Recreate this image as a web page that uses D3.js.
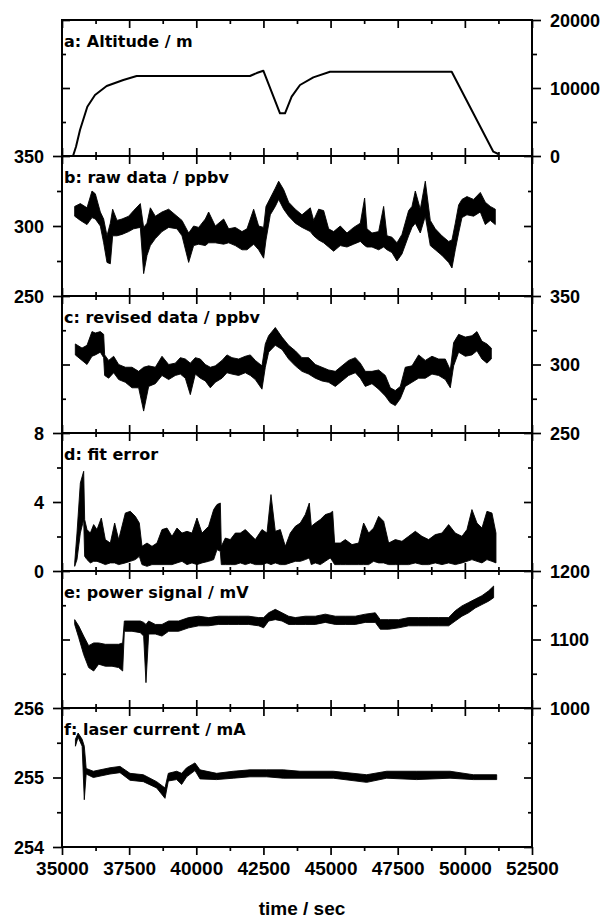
<!DOCTYPE html>
<html>
<head>
<meta charset="utf-8">
<script src="https://cdn.jsdelivr.net/npm/d3@7/dist/d3.min.js"></script>
<style>
  body { margin: 0; background: #fff; }
  svg { display: block; }
</style>
</head>
<body>
<svg id="chart" width="604" height="918"></svg>
<script>
// ---- data ----
const timeMajor = [35000, 37500, 40000, 42500, 45000, 47500, 50000, 52500];
const timeMinor = [36250, 38750, 41250, 43750, 46250, 48750, 51250];

// a: altitude (line)
const altTime  = [35410, 35521, 35670, 35943, 36229, 36663, 37283, 37780, 42000, 42249, 42496, 43117, 43303, 43551, 43862, 44358, 44979, 49510, 51060, 51245];
const altValue = [0, 1370, 3820, 7250, 8970, 10290, 11180, 11760, 11760, 12200, 12540, 6270, 6270, 8720, 10440, 11570, 12400, 12400, 630, 290];

// b: raw data, noise band low / high
const rawTime = [35472, 35683, 35931, 36117, 36241, 36427, 36551, 36675, 36799, 36886, 37048, 37234, 37482, 37668, 37916, 38040, 38165, 38289, 38475, 38723,
  38971, 39281, 39468, 39716, 39902, 40088, 40336, 40460, 40709, 41019, 41205, 41453, 41701, 41888, 42136, 42322, 42508, 42595, 42756, 42942,
  43067, 43253, 43439, 43687, 43935, 44245, 44370, 44556, 44742, 44928, 45114, 45362, 45611, 45859, 46107, 46268, 46355, 46541, 46790, 46976,
  47100, 47286, 47472, 47658, 47906, 48031, 48155, 48341, 48527, 48713, 48899, 49147, 49396, 49520, 49644, 49768, 49892, 50078, 50326, 50575,
  50761, 50947, 51133];
const rawLo = [307, 304, 301, 306, 305, 300, 288, 274, 273, 293, 293, 294, 296, 298, 299, 266, 279, 286, 291, 296,
  299, 298, 293, 274, 286, 287, 286, 288, 288, 287, 288, 286, 283, 283, 287, 283, 277, 290, 308, 314,
  319, 312, 307, 302, 299, 296, 293, 290, 288, 285, 282, 286, 285, 287, 289, 286, 285, 285, 283, 285,
  283, 281, 275, 280, 293, 299, 302, 295, 307, 286, 283, 279, 274, 270, 283, 295, 306, 308, 307, 310,
  301, 304, 301];
const rawHi = [314, 316, 313, 325, 323, 310, 305, 293, 302, 312, 304, 305, 307, 311, 316, 299, 302, 313, 307, 310,
  312, 307, 304, 295, 300, 299, 305, 310, 300, 305, 298, 299, 296, 298, 312, 300, 299, 314, 320, 327,
  332, 326, 317, 312, 308, 313, 304, 312, 311, 298, 296, 300, 295, 299, 302, 320, 298, 295, 296, 314,
  293, 292, 288, 294, 311, 314, 325, 312, 332, 304, 298, 293, 289, 290, 302, 315, 319, 321, 319, 324,
  317, 314, 312];

// c: revised data
const revTime = [35496, 35745, 35931, 36117, 36241, 36427, 36551, 36588, 36737, 36924, 37110, 37358, 37606, 37854, 38040, 38227, 38475, 38723, 38971, 39219,
  39406, 39592, 39778, 39964, 40150, 40336, 40522, 40709, 40957, 41143, 41329, 41577, 41826, 42012, 42198, 42446, 42570, 42694, 42942, 43191,
  43439, 43687, 43935, 44183, 44432, 44680, 44928, 45176, 45424, 45673, 45921, 46107, 46293, 46541, 46790, 47038, 47224, 47410, 47596, 47782,
  48031, 48279, 48527, 48775, 49023, 49272, 49458, 49582, 49768, 50016, 50264, 50450, 50637, 50823, 50984];
const revLo = [307, 303, 300, 306, 307, 309, 305, 292, 290, 294, 289, 287, 283, 283, 266, 284, 286, 292, 289, 292,
  293, 290, 278, 293, 290, 288, 283, 287, 290, 294, 293, 292, 294, 292, 289, 282, 298, 309, 314, 311,
  304, 299, 295, 293, 290, 288, 287, 284, 288, 292, 294, 290, 284, 286, 282, 277, 272, 270, 275, 284,
  287, 290, 290, 293, 292, 289, 283, 299, 309, 306, 307, 310, 304, 301, 304];
const revHi = [315, 312, 314, 324, 323, 324, 322, 307, 303, 306, 300, 298, 298, 295, 298, 299, 298, 306, 300, 301,
  305, 304, 301, 305, 304, 300, 298, 299, 303, 307, 305, 304, 306, 307, 303, 299, 315, 321, 327, 320,
  314, 310, 305, 305, 300, 298, 296, 295, 299, 303, 305, 301, 295, 295, 296, 292, 283, 281, 284, 298,
  299, 307, 303, 306, 304, 304, 296, 316, 322, 320, 321, 324, 317, 315, 312];

// d: fit error
const fitTime = [35472, 35558, 35683, 35807, 35844, 35931, 36055, 36179, 36303, 36464, 36613, 36799, 36961, 37110, 37358, 37544, 37730, 37879, 37978, 38165,
  38351, 38537, 38723, 38909, 39095, 39281, 39468, 39654, 39840, 40026, 40212, 40460, 40647, 40771, 40895, 40932, 41081, 41267, 41453, 41639,
  41826, 42012, 42198, 42446, 42632, 42781, 42942, 43129, 43315, 43501, 43687, 43873, 44059, 44208, 44283, 44432, 44618, 44804, 44990, 45077,
  45151, 45362, 45549, 45797, 46045, 46231, 46417, 46603, 46790, 46976, 47162, 47410, 47658, 47906, 48155, 48403, 48651, 48899, 49147, 49396,
  49644, 49892, 50078, 50264, 50450, 50637, 50823, 51009, 51158];
const fitLo = [0.27, 0.66, 2.20, 2.98, 0.85, 0.66, 0.47, 0.56, 0.56, 0.47, 0.37, 0.47, 0.47, 0.37, 0.47, 0.56, 0.66, 0.85, 0.37, 0.27,
  0.37, 0.37, 0.37, 0.37, 0.37, 0.47, 0.56, 0.37, 0.47, 0.37, 0.47, 0.56, 0.66, 1.24, 1.14, 0.37, 0.37, 0.37, 0.37, 0.47,
  0.37, 0.47, 0.37, 0.37, 0.47, 0.37, 0.47, 0.37, 0.37, 0.47, 0.56, 0.56, 0.66, 0.76, 0.37, 0.47, 0.37, 0.56, 0.76, 0.56,
  0.37, 0.37, 0.37, 0.37, 0.37, 0.37, 0.37, 0.56, 0.47, 0.47, 0.37, 0.37, 0.37, 0.37, 0.47, 0.37, 0.37, 0.47, 0.37, 0.47,
  0.37, 0.47, 0.56, 0.66, 0.56, 0.47, 0.66, 0.56, 0.47];
const fitHi = [0.47, 2.20, 5.10, 5.78, 2.98, 2.40, 2.20, 2.69, 2.40, 3.07, 1.82, 1.62, 2.78, 1.82, 3.36, 3.46, 3.17, 2.78, 1.43, 1.62,
  1.43, 1.62, 2.40, 2.49, 2.01, 2.49, 2.20, 2.30, 2.20, 3.07, 2.20, 2.59, 3.56, 3.85, 3.94, 1.43, 1.91, 1.82, 2.20, 2.20,
  2.40, 2.11, 1.82, 2.40, 2.20, 4.43, 2.30, 2.40, 1.43, 2.20, 2.59, 2.78, 3.27, 3.94, 2.59, 2.78, 2.98, 3.27, 3.36, 3.46,
  1.62, 1.62, 1.82, 1.53, 1.62, 2.78, 2.20, 2.49, 3.17, 2.88, 1.62, 1.82, 1.72, 2.01, 2.30, 2.01, 1.82, 2.11, 2.20, 2.69,
  2.20, 2.01, 2.40, 3.56, 2.78, 2.49, 3.46, 3.36, 2.20];

// e: power signal
const powTime = [35472, 35621, 35807, 35993, 36179, 36365, 36613, 36862, 37110, 37259, 37321, 37606, 37916, 38040, 38127, 38227, 38475, 38723, 38971, 39344,
  39716, 40088, 40460, 40833, 41205, 41577, 41950, 42322, 42508, 42694, 42942, 43191, 43439, 43687, 44059, 44432, 44804, 45176, 45549, 45921,
  46293, 46665, 46852, 47162, 47534, 47906, 48279, 48651, 49023, 49396, 49644, 49892, 50140, 50388, 50637, 50885, 51071];
const powLo = [1122, 1103, 1078, 1059, 1054, 1064, 1061, 1061, 1059, 1054, 1112, 1112, 1110, 1105, 1037, 1108, 1108, 1105, 1112, 1112,
  1117, 1120, 1120, 1122, 1122, 1122, 1122, 1120, 1117, 1127, 1129, 1127, 1122, 1122, 1122, 1122, 1125, 1122, 1122, 1122,
  1125, 1125, 1115, 1115, 1117, 1120, 1120, 1120, 1120, 1120, 1127, 1134, 1139, 1146, 1151, 1156, 1161];
const powHi = [1129, 1120, 1105, 1091, 1095, 1095, 1093, 1093, 1093, 1095, 1127, 1127, 1127, 1125, 1122, 1127, 1122, 1122, 1127, 1127,
  1132, 1134, 1132, 1134, 1134, 1134, 1134, 1132, 1132, 1139, 1144, 1139, 1134, 1132, 1134, 1134, 1137, 1134, 1134, 1134,
  1137, 1139, 1129, 1129, 1129, 1132, 1132, 1132, 1132, 1132, 1142, 1149, 1154, 1159, 1164, 1171, 1178];

// f: laser current
const curTime = [35500, 35600, 35750, 35830, 35900, 36166, 36787, 37160, 37532, 38028, 38525, 38835, 38959, 39269, 39455, 39641, 39952, 40138, 40758, 41379,
  42000, 42620, 43241, 43862, 45103, 46344, 47089, 48206, 49447, 50316, 51185];
const curLo = [255.45, 255.58, 255.45, 254.68, 255.05, 255.00, 255.05, 255.07, 254.96, 254.94, 254.85, 254.70, 254.95, 254.97, 254.90, 255.01, 255.10, 254.98, 254.97, 254.99,
  255.01, 255.01, 254.99, 254.99, 254.99, 254.93, 254.99, 254.97, 254.99, 254.97, 254.97];
const curHi = [255.55, 255.64, 255.55, 255.45, 255.13, 255.09, 255.14, 255.16, 255.06, 255.04, 254.94, 254.85, 255.06, 255.09, 255.06, 255.14, 255.21, 255.11, 255.06, 255.09,
  255.11, 255.11, 255.11, 255.09, 255.09, 255.04, 255.09, 255.09, 255.09, 255.04, 255.04];

// ---- layout ----
const svg = d3.select("#chart");
const left = 62, right = 532;
const edges = [20, 156, 296, 433, 571, 708, 847];
const fontAxis = "'Liberation Sans', Arial, sans-serif";
const fontTitle = "'DejaVu Sans', sans-serif";

const x = d3.scaleLinear().domain([35000, 52500]).range([left, right]);

const panels = [
  {title: "a: Altitude / m", domain: [0, 20000], major: [0, 10000, 20000], minor: [5000, 15000], side: "right",
   line: altTime.map((t, i) => [t, altValue[i]])},
  {title: "b: raw data / ppbv", domain: [250, 350], major: [250, 300, 350], minor: [275, 325], side: "left",
   band: rawTime.map((t, i) => [t, rawLo[i], rawHi[i]])},
  {title: "c: revised data / ppbv", domain: [250, 350], major: [250, 300, 350], minor: [275, 325], side: "right",
   band: revTime.map((t, i) => [t, revLo[i], revHi[i]])},
  {title: "d: fit error", domain: [0, 8], major: [0, 4, 8], minor: [2, 6], side: "left",
   band: fitTime.map((t, i) => [t, fitLo[i], fitHi[i]])},
  {title: "e: power signal / mV", domain: [1000, 1200], major: [1000, 1100, 1200], minor: [1050, 1150], side: "right",
   band: powTime.map((t, i) => [t, powLo[i], powHi[i]])},
  {title: "f: laser current / mA", domain: [254, 256], major: [254, 255, 256], minor: [254.5, 255.5], side: "left",
   band: curTime.map((t, i) => [t, curLo[i], curHi[i]])}
];

function styleAxis(g, size) {
  g.select(".domain").remove();
  g.selectAll("line").attr("stroke", "#000").attr("stroke-width", 1.7);
  g.selectAll("text")
    .attr("font-family", fontAxis)
    .attr("font-weight", "bold")
    .attr("font-size", size)
    .attr("fill", "#000");
}

panels.forEach((p, i) => {
  const top = edges[i], bottom = edges[i + 1];
  const y = d3.scaleLinear().domain(p.domain).range([bottom, top]);
  const g = svg.append("g");

  // data
  if (p.line) {
    g.append("path")
      .datum(p.line)
      .attr("d", d3.line().x(d => x(d[0])).y(d => y(d[1])))
      .attr("fill", "none")
      .attr("stroke", "#000")
      .attr("stroke-width", 2)
      .attr("stroke-linejoin", "round");
  } else {
    g.append("path")
      .datum(p.band)
      .attr("d", d3.area().x(d => x(d[0])).y0(d => y(d[1])).y1(d => y(d[2])))
      .attr("fill", "#000")
      .attr("stroke", "#000")
      .attr("stroke-width", 0.9)
      .attr("stroke-linejoin", "miter");
  }

  // time ticks on top and bottom edge, inward (outward under the last panel)
  const isLast = i === panels.length - 1;
  g.append("g").attr("transform", `translate(0,${top})`)
    .call(d3.axisTop(x).tickValues(timeMajor).tickSize(-8).tickFormat(""))
    .call(a => styleAxis(a, 19));
  g.append("g").attr("transform", `translate(0,${top})`)
    .call(d3.axisTop(x).tickValues(timeMinor).tickSize(-4).tickFormat(""))
    .call(a => styleAxis(a, 19));
  g.append("g").attr("transform", `translate(0,${bottom})`)
    .call(d3.axisBottom(x).tickValues(timeMajor).tickSize(isLast ? 8 : -8).tickFormat(isLast ? d3.format("d") : "").tickPadding(7))
    .call(a => styleAxis(a, 19));
  g.append("g").attr("transform", `translate(0,${bottom})`)
    .call(d3.axisBottom(x).tickValues(timeMinor).tickSize(isLast ? 4 : -4).tickFormat(""))
    .call(a => styleAxis(a, 19));

  // value axes: labelled side outward, other side inward
  const onLeft = p.side === "left";
  const lx = onLeft ? left : right;
  const px = onLeft ? right : left;

  g.append("g").attr("transform", `translate(${lx},0)`)
    .call((onLeft ? d3.axisLeft(y) : d3.axisRight(y)).tickValues(p.major).tickSize(9).tickPadding(9).tickFormat(d3.format("d")))
    .call(a => styleAxis(a, 18))
    .call(a => a.selectAll("text").attr("dy", "0.36em"));
  g.append("g").attr("transform", `translate(${lx},0)`)
    .call((onLeft ? d3.axisLeft(y) : d3.axisRight(y)).tickValues(p.minor).tickSize(5).tickFormat(""))
    .call(a => styleAxis(a, 18));
  g.append("g").attr("transform", `translate(${px},0)`)
    .call((onLeft ? d3.axisRight(y) : d3.axisLeft(y)).tickValues(p.major).tickSize(-8).tickFormat(""))
    .call(a => styleAxis(a, 18));
  g.append("g").attr("transform", `translate(${px},0)`)
    .call((onLeft ? d3.axisRight(y) : d3.axisLeft(y)).tickValues(p.minor).tickSize(-4).tickFormat(""))
    .call(a => styleAxis(a, 18));

  // frame
  g.append("rect")
    .attr("x", left).attr("y", top)
    .attr("width", right - left).attr("height", bottom - top)
    .attr("fill", "none")
    .attr("stroke", "#000")
    .attr("stroke-width", 2);

  g.append("text")
    .attr("x", 64).attr("y", top + 27)
    .attr("font-family", fontTitle)
    .attr("font-weight", "bold")
    .attr("font-size", 16)
    .text(p.title);
});

svg.append("text")
  .attr("x", 302).attr("y", 915)
  .attr("text-anchor", "middle")
  .attr("font-family", fontAxis)
  .attr("font-weight", "bold")
  .attr("font-size", 19)
  .text("time / sec");
</script>
</body>
</html>
